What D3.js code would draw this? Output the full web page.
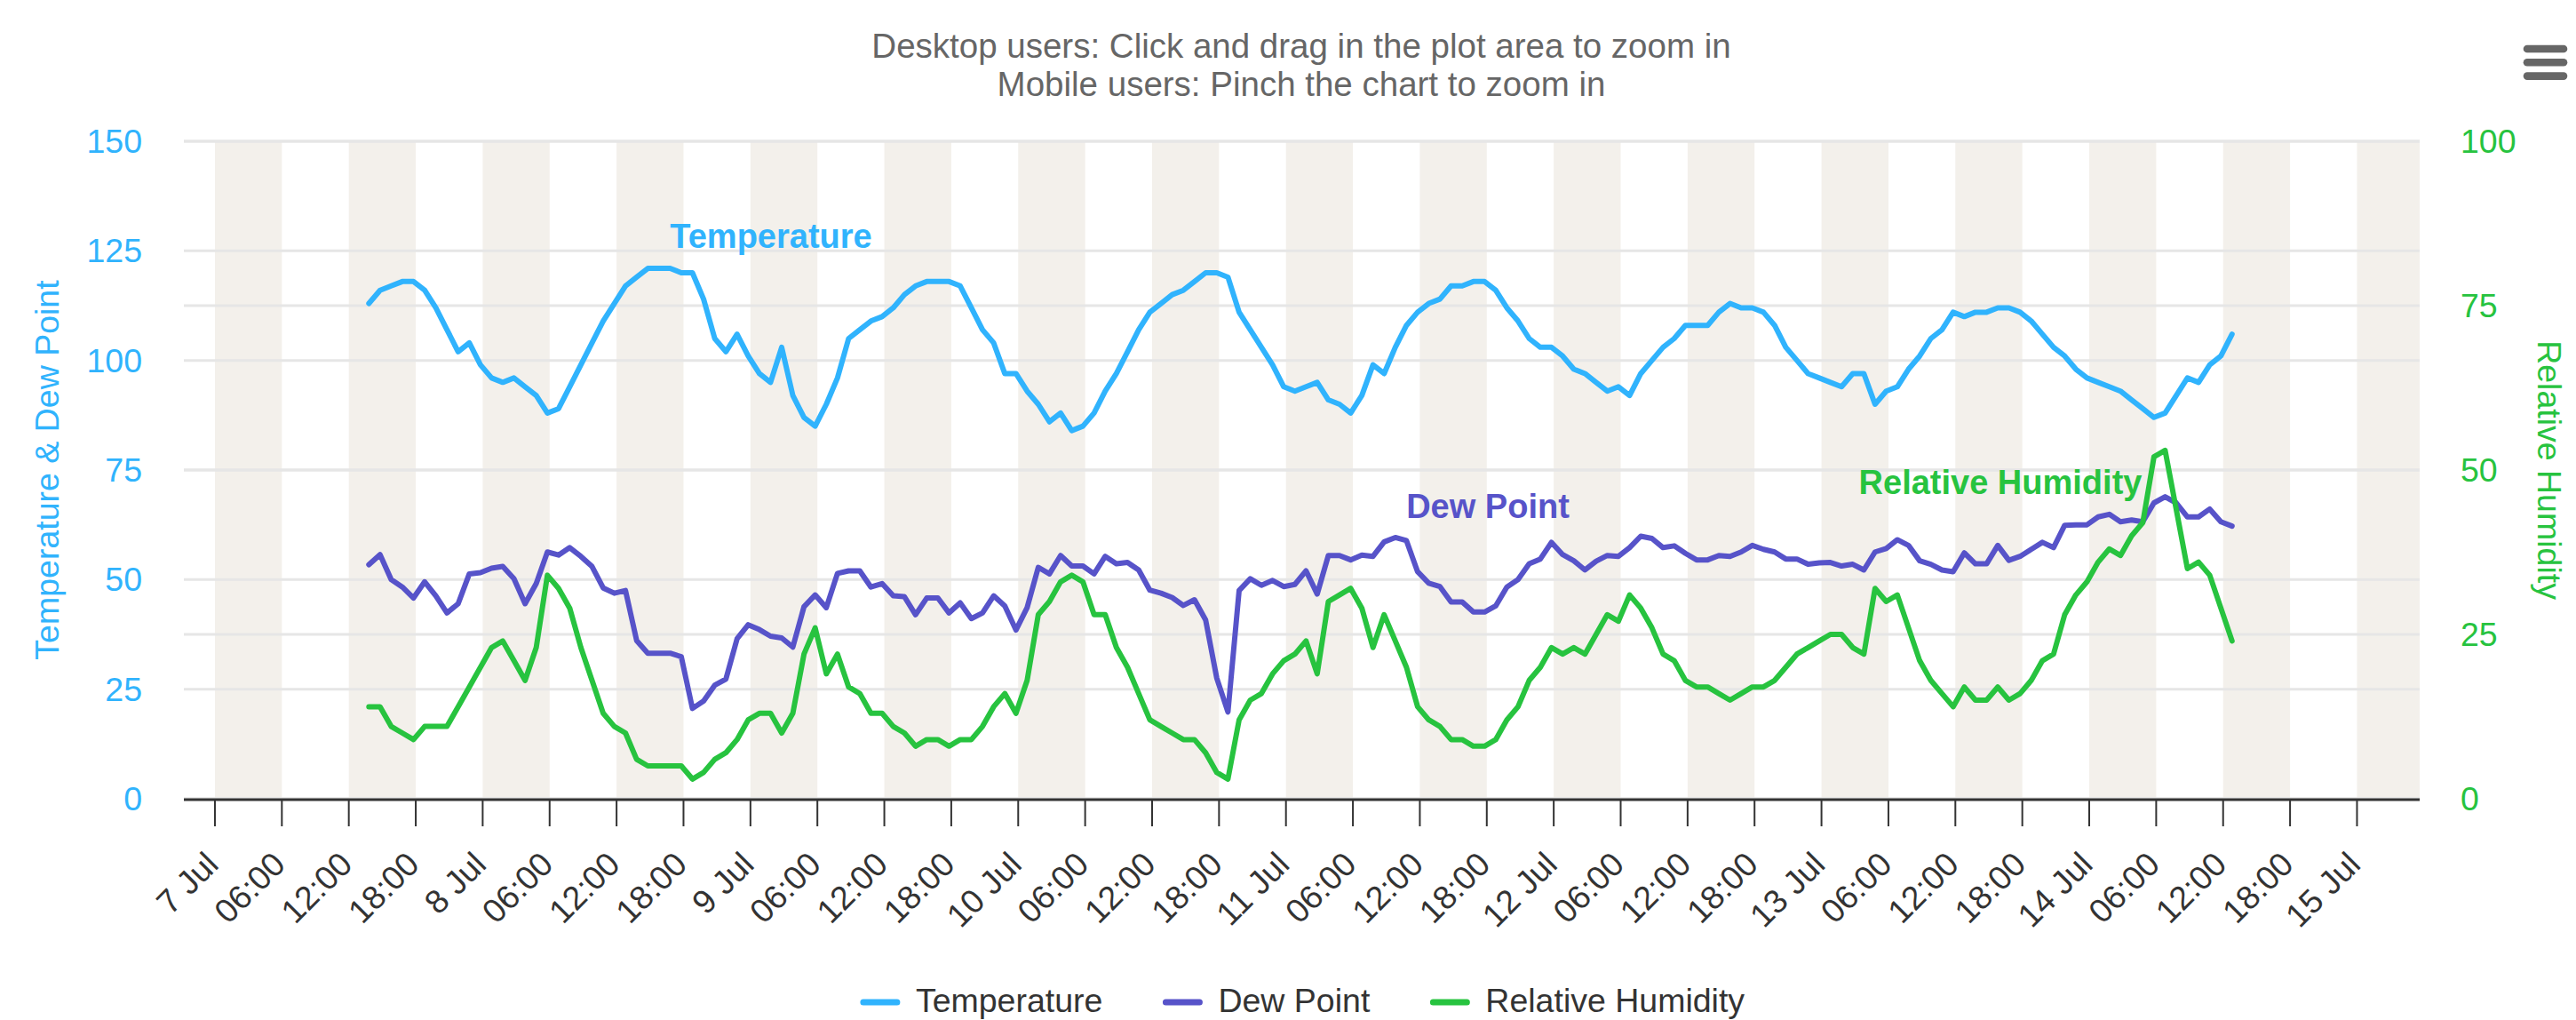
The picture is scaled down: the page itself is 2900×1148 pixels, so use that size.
<!DOCTYPE html>
<html>
<head>
<meta charset="utf-8">
<script src="https://cdn.jsdelivr.net/npm/d3@7"></script>
<style>
  body { margin: 0; background: #fff; }
  text { font-family: "Liberation Sans", Arial, Helvetica, sans-serif; }
</style>
</head>
<body>
<div id="chart"></div>
<script>
// hourly observations, first reading 7 Jul 13:48
const startTime = new Date(2018, 6, 7, 13, 48);

const temperature = [
  113,116,117,118,118,116,112,107,102,104,99,96,95,96,94,92,88,89,94,99,104,109,113,117,119,121,121,121,120,120,114,105,102,106,101,97,95,103,92,87,85,90,
  96,105,107,109,110,112,115,117,118,118,118,117,112,107,104,97,97,93,90,86,88,84,85,88,93,97,102,107,111,113,115,116,118,120,120,119,111,107,103,99,94,93,
  94,95,91,90,88,92,99,97,103,108,111,113,114,117,117,118,118,116,112,109,105,103,103,101,98,97,95,93,94,92,97,100,103,105,108,108,108,111,113,112,112,111,
  108,103,100,97,96,95,94,97,97,90,93,94,98,101,105,107,111,110,111,111,112,112,111,109,106,103,101,98,96,95,94,93,91,89,87,88,92,96,95,99,101,106
];

const dewPoint = [
  53.4,55.7,50,48.3,45.8,49.5,46.3,42.4,44.5,51.3,51.6,52.6,53,50.2,44.5,49.1,56.3,55.6,57.3,55.3,53,48.1,46.9,47.5,36.1,33.2,33.2,33.2,32.4,20.6,22.3,25.9,27.3,36.5,39.7,38.6,37.1,36.7,34.6,43.8,46.5,43.6,
  51.4,52,52,48.3,49.1,46.3,46.1,42,45.8,45.8,42.4,44.7,41.1,42.4,46.3,44,38.5,43.6,52.8,51.3,55.5,53.1,53.1,51.3,55.3,53.6,53.9,52.2,47.6,46.9,45.9,44.1,45.4,40.8,27.5,19.8,47.5,50.2,48.7,49.8,48.4,48.9,
  52,46.7,55.5,55.5,54.5,55.6,55.3,58.6,59.6,58.9,51.8,49.2,48.4,44.9,44.9,42.6,42.6,44,48.3,50,53.6,54.7,58.5,55.7,54.3,52.2,54.2,55.5,55.3,57.3,59.9,59.4,57.3,57.7,56,54.5,54.5,55.5,55.3,56.3,57.8,56.9,
  56.3,54.7,54.7,53.5,53.8,53.9,53.1,53.5,52.2,56.3,57.1,59.1,57.8,54.3,53.5,52.2,51.8,56.1,53.6,53.6,57.8,54.4,55.3,56.9,58.5,57.3,62.4,62.5,62.5,64.3,64.9,63.2,63.6,63.2,67.5,68.9,67.5,64.3,64.3,66.1,63.2,62.2
];

const humidity = [
  14,14,11,10,9,11,11,11,14,17,20,23,24,21,18,23,34,32,29,23,18,13,11,10,6,5,5,5,5,3,4,6,7,9,12,13,13,10,13,22,26,19,
  22,17,16,13,13,11,10,8,9,9,8,9,9,11,14,16,13,18,28,30,33,34,33,28,28,23,20,16,12,11,10,9,9,7,4,3,12,15,16,19,21,22,
  24,19,30,31,32,29,23,28,24,20,14,12,11,9,9,8,8,9,12,14,18,20,23,22,23,22,25,28,27,31,29,26,22,21,18,17,17,16,15,16,17,17,
  18,20,22,23,24,25,25,23,22,32,30,31,26,21,18,16,14,17,15,15,17,15,16,18,21,22,28,31,33,36,38,37,40,42,52,53,44,35,36,34,29,24
];

const leftTicks = [0, 25, 50, 75, 100, 125, 150];
const rightTicks = [0, 25, 50, 75, 100];
const titleLines = ["Desktop users: Click and drag in the plot area to zoom in",
                    "Mobile users: Pinch the chart to zoom in"];

const colors = { temp: "#30b3fd", dew: "#5753c9", rh: "#27c33f" };

const W = 2900, H = 1148;
const plot = { left: 207, right: 2724, top: 159, bottom: 899 };
const font = 37.5;

const svg = d3.select("#chart").append("svg")
  .attr("width", W).attr("height", H);

const x = d3.scaleTime()
  .domain([new Date(2018, 6, 6, 21, 13), new Date(2018, 6, 15, 5, 37)])
  .range([plot.left, plot.right]);
const yL = d3.scaleLinear().domain([0, 150]).range([plot.bottom, plot.top]);
const yR = d3.scaleLinear().domain([0, 100]).range([plot.bottom, plot.top]);

const times = temperature.map((d, i) => d3.timeHour.offset(startTime, i));

// alternating six hour bands (00-06 and 12-18)
const bands = [];
d3.timeDay.range(new Date(2018, 6, 6), new Date(2018, 6, 16)).forEach(day => {
  [0, 12].forEach(h => {
    let a = d3.timeHour.offset(day, h), b = d3.timeHour.offset(day, h + 6);
    const [d0, d1] = x.domain();
    if (b <= d0 || a >= d1) return;
    bands.push([a < d0 ? d0 : a, b > d1 ? d1 : b]);
  });
});
svg.append("g").selectAll("rect").data(bands).enter().append("rect")
  .attr("x", d => x(d[0]))
  .attr("width", d => x(d[1]) - x(d[0]))
  .attr("y", plot.top)
  .attr("height", plot.bottom - plot.top)
  .attr("fill", "#f3f0eb");

// grid lines for both axes
const grid = svg.append("g");
grid.selectAll(".gl").data(leftTicks).enter().append("line")
  .attr("x1", plot.left).attr("x2", plot.right)
  .attr("y1", d => yL(d)).attr("y2", d => yL(d))
  .attr("stroke", "#e6e6e6").attr("stroke-width", 3);
grid.selectAll(".gr").data(rightTicks).enter().append("line")
  .attr("x1", plot.left).attr("x2", plot.right)
  .attr("y1", d => yR(d)).attr("y2", d => yR(d))
  .attr("stroke", "#e6e6e6").attr("stroke-width", 3);

// x axis
const xTicks = d3.timeHour.every(6).range(new Date(2018, 6, 7), new Date(2018, 6, 15, 0, 1));
const fmt = d => d.getHours() === 0 ? d3.timeFormat("%-d %b")(d) : d3.timeFormat("%H:%M")(d);
const xg = svg.append("g");
xg.append("line")
  .attr("x1", plot.left).attr("x2", plot.right)
  .attr("y1", plot.bottom + 1).attr("y2", plot.bottom + 1)
  .attr("stroke", "#333").attr("stroke-width", 3);
xg.selectAll(".tick").data(xTicks).enter().append("line")
  .attr("x1", d => x(d)).attr("x2", d => x(d))
  .attr("y1", plot.bottom).attr("y2", plot.bottom + 31)
  .attr("stroke", "#333").attr("stroke-width", 2);
xg.selectAll(".lbl").data(xTicks).enter().append("text")
  .attr("transform", d => `translate(${x(d) + 6},${plot.bottom + 76}) rotate(-45)`)
  .attr("text-anchor", "end")
  .attr("font-size", font)
  .attr("fill", "#333")
  .text(fmt);

// y axes
svg.append("g").selectAll("text").data(leftTicks).enter().append("text")
  .attr("x", 160).attr("y", d => yL(d)).attr("dy", "0.35em")
  .attr("text-anchor", "end").attr("font-size", font).attr("fill", colors.temp)
  .text(d => d);
svg.append("g").selectAll("text").data(rightTicks).enter().append("text")
  .attr("x", 2770).attr("y", d => yR(d)).attr("dy", "0.35em")
  .attr("text-anchor", "start").attr("font-size", font).attr("fill", colors.rh)
  .text(d => d);

const midY = (plot.top + plot.bottom) / 2;
svg.append("text")
  .attr("transform", `translate(53,${midY}) rotate(-90)`)
  .attr("text-anchor", "middle").attr("dy", "0.35em")
  .attr("font-size", font).attr("fill", colors.temp)
  .text("Temperature & Dew Point");
svg.append("text")
  .attr("transform", `translate(2870,${midY}) rotate(90)`)
  .attr("text-anchor", "middle").attr("dy", "0.35em")
  .attr("font-size", font).attr("fill", colors.rh)
  .text("Relative Humidity");

// series
const series = [
  { name: "Temperature", values: temperature, y: yL, color: colors.temp },
  { name: "Dew Point", values: dewPoint, y: yL, color: colors.dew },
  { name: "Relative Humidity", values: humidity, y: yR, color: colors.rh }
];
series.forEach(s => {
  const line = d3.line().x((d, i) => x(times[i])).y(d => s.y(d));
  svg.append("path")
    .datum(s.values)
    .attr("d", line)
    .attr("fill", "none")
    .attr("stroke", s.color)
    .attr("stroke-width", 6)
    .attr("stroke-linejoin", "round")
    .attr("stroke-linecap", "round");
});

// series labels inside the plot
const labels = [
  { text: "Temperature", cx: 868, by: 279, color: colors.temp },
  { text: "Dew Point", cx: 1675, by: 583, color: colors.dew },
  { text: "Relative Humidity", cx: 2252, by: 556, color: colors.rh }
];
svg.append("g").selectAll("text").data(labels).enter().append("text")
  .attr("x", d => d.cx).attr("y", d => d.by)
  .attr("text-anchor", "middle").attr("font-size", 38).attr("font-weight", "bold")
  .attr("fill", d => d.color)
  .text(d => d.text);

// title
svg.append("g").selectAll("text").data(titleLines).enter().append("text")
  .attr("x", 1465).attr("y", (d, i) => 65 + i * 43)
  .attr("text-anchor", "middle").attr("font-size", 38.5).attr("fill", "#666")
  .text(d => d);

// menu icon
svg.append("g").selectAll("line").data([0, 1, 2]).enter().append("line")
  .attr("x1", 2845).attr("x2", 2886)
  .attr("y1", d => 55 + d * 15.3).attr("y2", d => 55 + d * 15.3)
  .attr("stroke", "#666").attr("stroke-width", 8.6).attr("stroke-linecap", "round");

// legend
const legend = svg.append("g");
let lx = 0;
series.forEach(s => {
  const g = legend.append("g").attr("transform", `translate(${lx},0)`);
  g.append("line").attr("x1", 4).attr("x2", 42).attr("y1", 0).attr("y2", 0)
    .attr("stroke", s.color).attr("stroke-width", 7).attr("stroke-linecap", "round");
  const t = g.append("text").attr("x", 63).attr("y", 11)
    .attr("font-size", font).attr("fill", "#333").text(s.name);
  const w = t.node().getComputedTextLength();
  lx += 63 + w + 67;
});
const legendW = lx - 67;
legend.attr("transform", `translate(${1466 - legendW / 2},1128)`);
</script>
</body>
</html>
